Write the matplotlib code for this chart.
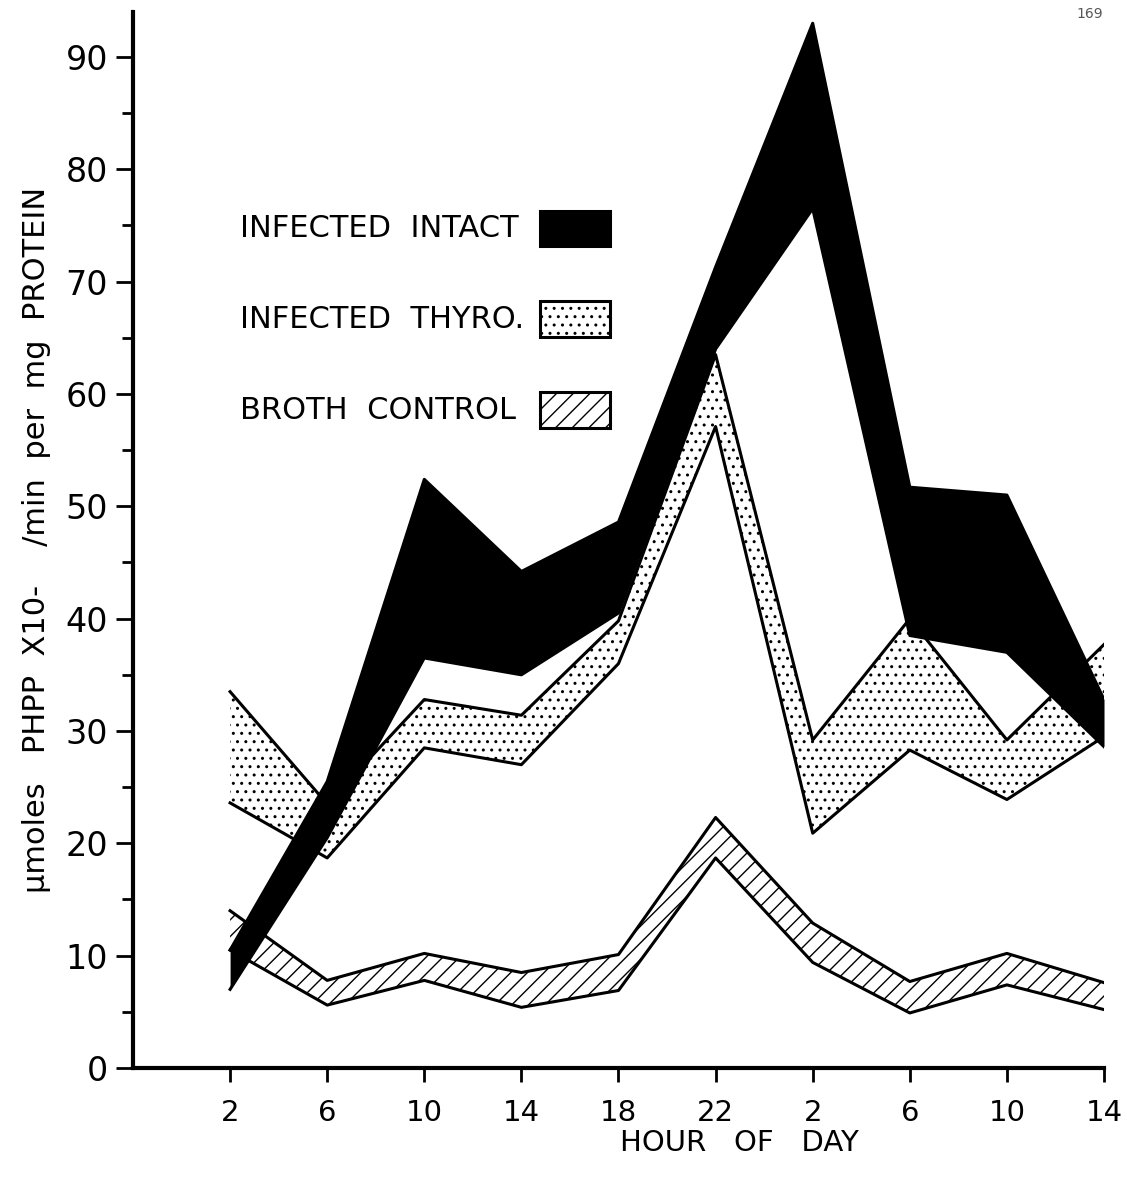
import numpy as np
import matplotlib
matplotlib.use("Agg")
import matplotlib.pyplot as plt
from matplotlib.patches import Rectangle

plt.rcParams['font.family'] = ['DejaVu Sans']
plt.rcParams['hatch.linewidth'] = 1.0

# hour of day labels (two days)
hours = ['2', '6', '10', '14', '18', '22', '2', '6', '10', '14']

# band limits (lower / upper) for each series
intact_low = [7.0, 20.5, 36.5, 35.0, 40.5, 64.0, 76.5, 38.5, 37.0, 28.6]
intact_high = [10.5, 25.5, 52.4, 44.2, 48.6, 71.3, 93.0, 51.7, 51.0, 32.8]

thyro_low = [23.6, 18.7, 28.5, 27.0, 36.0, 57.1, 20.9, 28.3, 23.9, 29.5]
thyro_high = [33.5, 23.5, 32.8, 31.4, 39.8, 63.5, 29.2, 40.0, 29.2, 37.7]

broth_low = [10.5, 5.6, 7.8, 5.4, 6.9, 18.7, 9.4, 4.9, 7.4, 5.2]
broth_high = [14.0, 7.8, 10.2, 8.5, 10.1, 22.3, 12.9, 7.7, 10.2, 7.6]

labels = ['INFECTED  INTACT', 'INFECTED  THYRO.', 'BROTH  CONTROL']

x = np.arange(len(hours))

fig = plt.figure(figsize=(11.27, 11.77), dpi=100)
ax = fig.add_axes([0.118, 0.0926, 0.8616, 0.8972])

def band(lo, hi, face, hatch, z):
    ax.fill_between(x, lo, hi, facecolor=face, edgecolor='black',
                    hatch=hatch, linewidth=0, zorder=z)
    ax.plot(x, lo, color='black', lw=2.2, zorder=z + 0.1)
    ax.plot(x, hi, color='black', lw=2.2, zorder=z + 0.1)

band(thyro_low, thyro_high, 'white', '..', 2)
band(broth_low, broth_high, 'white', '//', 2)
band(intact_low, intact_high, 'black', None, 3)

ax.set_xlim(-1, 9)
ax.set_ylim(0, 94)
ax.set_xticks(x)
ax.set_xticklabels(hours, fontsize=21)
ax.set_yticks(np.arange(0, 91, 10))
ax.set_yticks(np.arange(5, 91, 10), minor=True)
ax.tick_params(axis='y', which='major', labelsize=24, length=12, width=2,
               direction='out', pad=6)
ax.tick_params(axis='y', which='minor', length=8, width=2, direction='out')
ax.tick_params(axis='x', length=10, width=2, direction='out', pad=12)

for s in ['top', 'right']:
    ax.spines[s].set_visible(False)
for s in ['left', 'bottom']:
    ax.spines[s].set_linewidth(3)

ax.set_xlabel('HOUR   OF   DAY', fontsize=21, labelpad=2, x=0.625)
ax.set_ylabel('\u03bcmoles   PHPP  X10-    /min  per  mg  PROTEIN',
              fontsize=22, labelpad=10)

# legend drawn as text with swatches
swatches = [('black', None), ('white', '..'), ('white', '//')]
for i, (lab, (fc, h)) in enumerate(zip(labels, swatches)):
    yc = 0.795 - i * 0.086
    ax.text(0.110, yc, lab, transform=ax.transAxes, fontsize=22,
            va='center', ha='left')
    ax.add_patch(Rectangle((0.419, yc - 0.017), 0.072, 0.034,
                           transform=ax.transAxes, facecolor=fc,
                           edgecolor='black', hatch=h, lw=2.2, zorder=5))

fig.text(0.955, 0.985, '169', fontsize=10, color='#555555')

fig.savefig('out.png', dpi=100)
